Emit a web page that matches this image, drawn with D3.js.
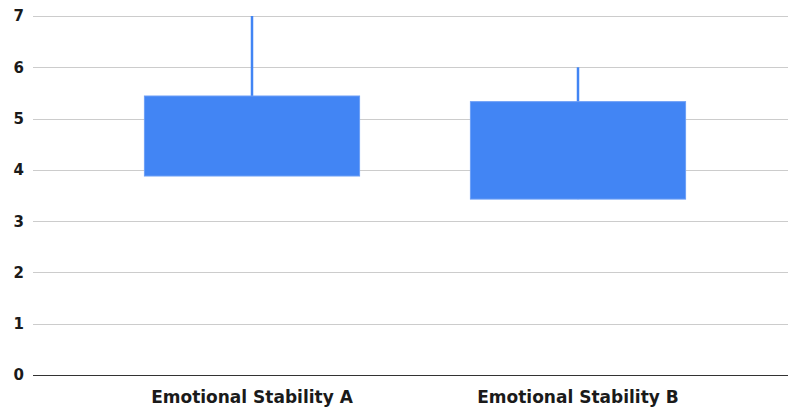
<!DOCTYPE html>
<html>
<head>
<meta charset="utf-8">
<script src="https://cdn.jsdelivr.net/npm/d3@7"></script>
<style>
  html, body { margin: 0; padding: 0; background: #fff; }
  svg { display: block; }
  text { font-family: "DejaVu Sans", "Liberation Sans", Arial, sans-serif; font-weight: bold; fill: #1a1a1a; }
</style>
</head>
<body>
<svg id="chart" width="788" height="408"></svg>
<script>
// Candlestick values per category: low, open (box bottom), close (box top), high
const categories = ["Emotional Stability A", "Emotional Stability B"];
const lowValues = [3.88, 3.43];
const openValues = [3.88, 3.43];
const closeValues = [5.44, 5.33];
const highValues = [7, 6];
const yTicks = [0, 1, 2, 3, 4, 5, 6, 7];

const width = 788, height = 408;
const plot = { left: 33, right: 788, top: 16, bottom: 375 };

const svg = d3.select("#chart");

const y = d3.scaleLinear().domain([0, 7]).range([plot.bottom, plot.top]);
const x = d3.scaleBand()
  .domain(categories)
  .range([89, 741])
  .paddingInner(0.34)
  .paddingOuter(0.17);

// Horizontal gridlines
svg.append("g")
  .selectAll("line")
  .data(yTicks.filter(d => d !== 0))
  .join("line")
  .attr("x1", plot.left)
  .attr("x2", plot.right)
  .attr("y1", d => Math.round(y(d)) + 0.5)
  .attr("y2", d => Math.round(y(d)) + 0.5)
  .attr("stroke", "#cccccc")
  .attr("stroke-width", 1);

// Y tick labels
svg.append("g")
  .selectAll("text")
  .data(yTicks)
  .join("text")
  .attr("x", 24)
  .attr("y", d => y(d))
  .attr("dy", "0.36em")
  .attr("text-anchor", "end")
  .attr("font-size", 15)
  .text(d => d);

const rows = categories.map((c, i) => ({
  cat: c, low: lowValues[i], open: openValues[i], close: closeValues[i], high: highValues[i]
}));

// Wicks
svg.append("g")
  .selectAll("line")
  .data(rows)
  .join("line")
  .attr("x1", d => x(d.cat) + x.bandwidth() / 2)
  .attr("x2", d => x(d.cat) + x.bandwidth() / 2)
  .attr("y1", d => y(d.high))
  .attr("y2", d => y(d.low))
  .attr("stroke", "#4285f4")
  .attr("stroke-width", 2.5);

// Boxes
svg.append("g")
  .selectAll("rect")
  .data(rows)
  .join("rect")
  .attr("x", d => x(d.cat))
  .attr("width", x.bandwidth())
  .attr("y", d => y(Math.max(d.open, d.close)))
  .attr("height", d => Math.abs(y(d.open) - y(d.close)))
  .attr("fill", "#4285f4")
  .attr("stroke", "#6d9ff6")
  .attr("stroke-width", 1);

// Baseline
svg.append("line")
  .attr("x1", plot.left)
  .attr("x2", plot.right)
  .attr("y1", y(0) + 0.5)
  .attr("y2", y(0) + 0.5)
  .attr("stroke", "#333333")
  .attr("stroke-width", 1);

// Category labels
svg.append("g")
  .selectAll("text")
  .data(categories)
  .join("text")
  .attr("x", d => x(d) + x.bandwidth() / 2)
  .attr("y", 403)
  .attr("text-anchor", "middle")
  .attr("font-size", 17)
  .text(d => d);
</script>
</body>
</html>
